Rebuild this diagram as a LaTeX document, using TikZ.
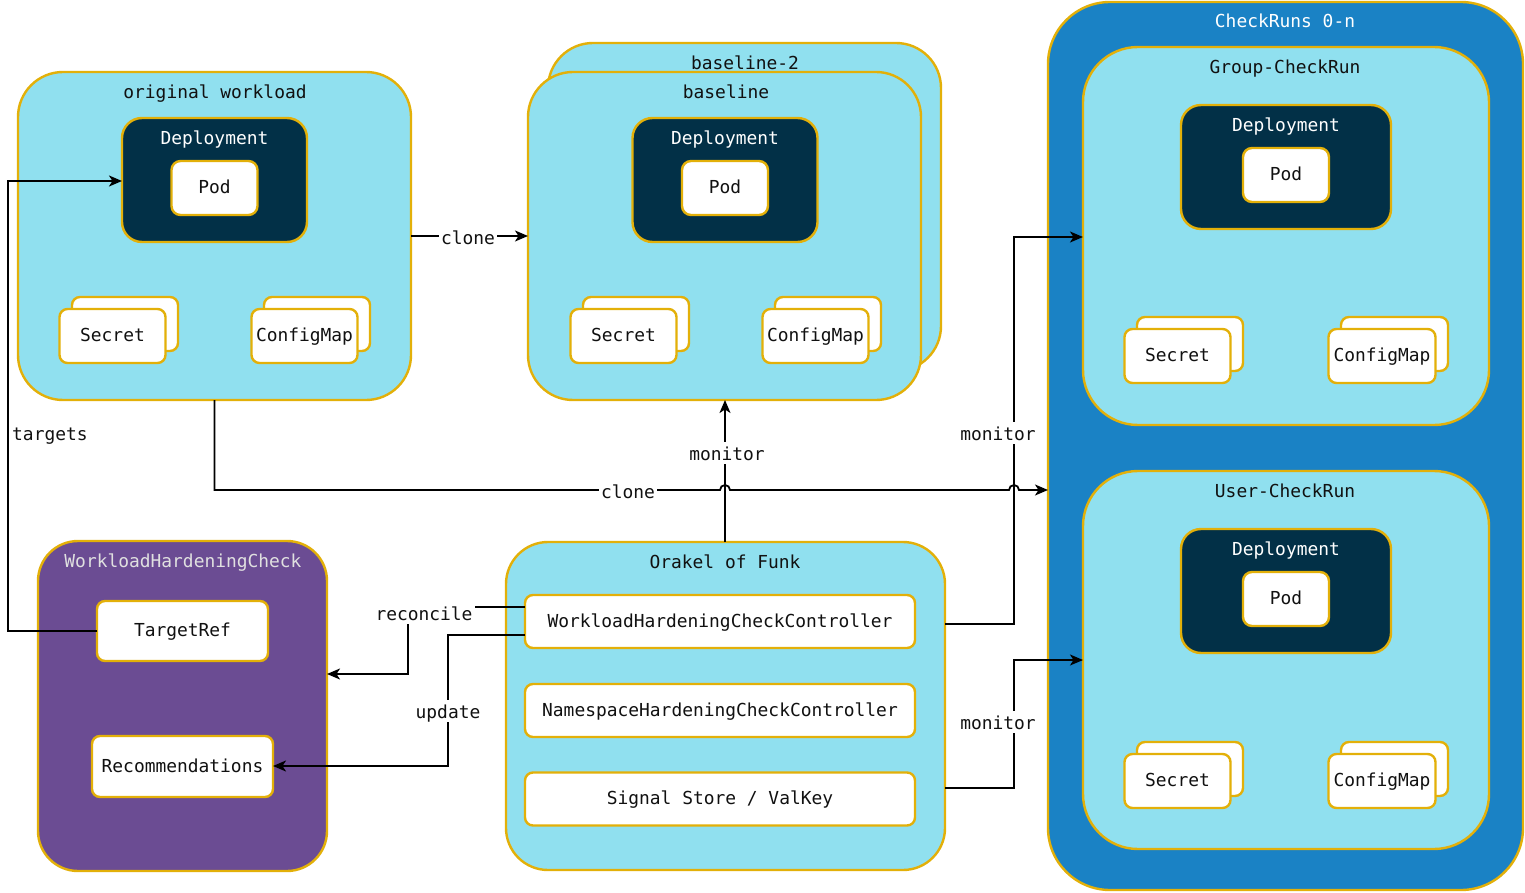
\documentclass[tikz,border=0pt]{standalone}
\usepackage{fontspec}
\setmonofont{DejaVu Sans Mono}
\usetikzlibrary{arrows.meta}
\definecolor{cyanbg}{HTML}{90E0EF}
\definecolor{goldb}{HTML}{E3B009}
\definecolor{navy}{HTML}{023047}
\definecolor{bluebg}{HTML}{1A82C5}
\definecolor{purp}{HTML}{6B4C93}
\definecolor{txt}{HTML}{111111}
\tikzset{
  fnt/.style={font=\ttfamily\fontsize{17.9}{20}\selectfont, text=txt},
  base/.style={draw=goldb, line width=2.4pt, inner sep=0pt, outer sep=0pt, rectangle},
  cont/.style={base, fill=cyanbg, rounded corners=45pt},
  outer/.style={base, fill=bluebg, rounded corners=62pt},
  sub/.style={base, fill=cyanbg, rounded corners=55pt},
  whc/.style={base, fill=purp, rounded corners=40pt},
  depl/.style={base, fill=navy, rounded corners=20pt, minimum width=185pt, minimum height=124pt},
  boxtext/.style={fnt, text height=1.17em, text depth=0pt},
  pod/.style={base, fill=white, rounded corners=9pt, minimum width=86pt, minimum height=54pt, boxtext},
  res/.style={base, fill=white, rounded corners=8pt, minimum width=106pt, minimum height=54pt, boxtext},
  ctl/.style={base, fill=white, rounded corners=8pt, minimum width=390pt, minimum height=53pt, boxtext},
  ttl/.style={inner sep=0pt, fnt, text height=0.73em, text depth=0pt, yshift=-3.8pt},
  wttl/.style={ttl, text=white},
  lbl/.style={fnt, fill=white, inner ysep=0pt, inner xsep=2pt, text height=18.5pt, text depth=3.5pt},
  conn/.style={draw=black, line width=1.8pt},
  arr/.style={conn, -{Stealth[length=13pt,width=11pt,inset=3.5pt]}},
}
\newcommand{\depbox}[3]{% name, x, y (deployment center)
  \node[depl] (#1) at (#2,#3) {};
  \node[wttl] (#1t) at (#2,{#3-43}) {Deployment};
  \node[pod] (#1p) at (#2,{#3+8}) {Pod};
}
\newcommand{\resstack}[5]{% name, backx, backy, text, width
  \node[res, minimum width=#5pt] (#1b) at (#2,#3) {};
  \node[res, minimum width=#5pt] (#1) at ({#2-12.5},{#3+12}) {#4};
}
\begin{document}
\begin{tikzpicture}[x=1pt,y=-1pt]
\useasboundingbox (0,0) rectangle (1525,893);

% original workload
\node[cont, minimum width=393pt, minimum height=328pt] (ow) at (214.5,236) {};
\node[ttl] (owt) at (215,91) {original workload};
\depbox{owd}{214.5}{180}
\resstack{ows}{125}{324}{Secret}{106}
\resstack{owc}{317}{324}{ConfigMap}{106}

% baseline-2 and baseline
\node[cont, minimum width=393pt, minimum height=328pt] (bl2) at (744.5,207) {};
\node[ttl] (bl2t) at (745,62) {baseline-2};
\node[cont, minimum width=393pt, minimum height=328pt] (bl) at (724.5,236) {};
\node[ttl] (blt) at (726,91) {baseline};
\depbox{bld}{725}{180}
\resstack{bls}{636}{324}{Secret}{106}
\resstack{blc}{828}{324}{ConfigMap}{106}

% CheckRuns
\node[outer, minimum width=475pt, minimum height=888pt] (cr) at (1285.5,446) {};
\node[wttl] (crt) at (1285,20) {CheckRuns 0-n};
\node[sub, minimum width=406pt, minimum height=378pt] (gc) at (1286,236) {};
\node[ttl] (gct) at (1285,66) {Group-CheckRun};
\node[depl, minimum width=210pt] (gcd) at (1286,167) {};
\node[wttl] (gcdt) at (1286,124) {Deployment};
\node[pod] (gcdp) at (1286,175) {Pod};
\resstack{gcs}{1190}{344}{Secret}{106}
\resstack{gcc}{1394.5}{344}{ConfigMap}{107}

\node[sub, minimum width=406pt, minimum height=378pt] (uc) at (1286,660) {};
\node[ttl] (uct) at (1285,490) {User-CheckRun};
\node[depl, minimum width=210pt] (ucd) at (1286,591) {};
\node[wttl] (ucdt) at (1286,548) {Deployment};
\node[pod] (ucdp) at (1286,599) {Pod};
\resstack{ucs}{1190}{769}{Secret}{106}
\resstack{ucc}{1394.5}{769}{ConfigMap}{107}

% WorkloadHardeningCheck
\node[whc, minimum width=289pt, minimum height=330pt] (wh) at (182.5,706) {};
\node[wttl, text=white!88!black] (wht) at (183,560) {WorkloadHardeningCheck};
\node[ctl, minimum width=171pt, minimum height=60pt] (tr) at (182.5,631) {TargetRef};
\node[ctl, minimum width=181pt, minimum height=61pt] (rec) at (182.5,766.5) {Recommendations};

% Orakel of Funk
\node[cont, rounded corners=42pt, minimum width=439pt, minimum height=328pt] (ok) at (725.5,706) {};
\node[ttl] (okt) at (725,561) {Orakel of Funk};
\node[ctl] (whcc) at (720,621.5) {WorkloadHardeningCheckController};
\node[ctl] (nhcc) at (720,710.5) {NamespaceHardeningCheckController};
\node[ctl] (ss) at (720,799) {Signal Store / ValKey};

% connectors
\draw[arr] (ow.east) -- (bl.west);
\node[lbl] (lclone1) at (468,237) {clone};

\draw[arr] (tr.west) -- (8,631) -- (8,181) -- (owd.west |- 0,181);
\node[ttl, anchor=west] (ltargets) at (12,433) {targets};

\draw[arr] (725,542) -- (725,400);
\node[lbl] (lmon1) at (727,453) {monitor};

\draw[arr] (ok.east |- 0,624) -- (1014,624) -- (1014,237) -- (gc.west |- 0,237);
\node[lbl] (lmon2) at (998,433) {monitor};

\draw[arr] (ok.east |- 0,788) -- (1014,788) -- (1014,660) -- (uc.west);
\node[lbl] (lmon3) at (998,722) {monitor};

\draw[arr] (ow.south) -- (214.5,490) -- (720,490) arc[start angle=180, end angle=0, radius=5pt]
  -- (1009,490) arc[start angle=180, end angle=0, radius=5pt] -- (cr.west |- 0,490);
\node[lbl] (lclone2) at (628,491) {clone};

\draw[arr] (whcc.west |- 0,607) -- (408,607) -- (408,674) -- (wh.east |- 0,674);
\node[lbl] (lrec) at (424,613) {reconcile};

\draw[arr] (whcc.west |- 0,635) -- (448,635) -- (448,766) -- (rec.east |- 0,766);
\node[lbl] (lupd) at (448,711) {update};
\end{tikzpicture}
\end{document}
